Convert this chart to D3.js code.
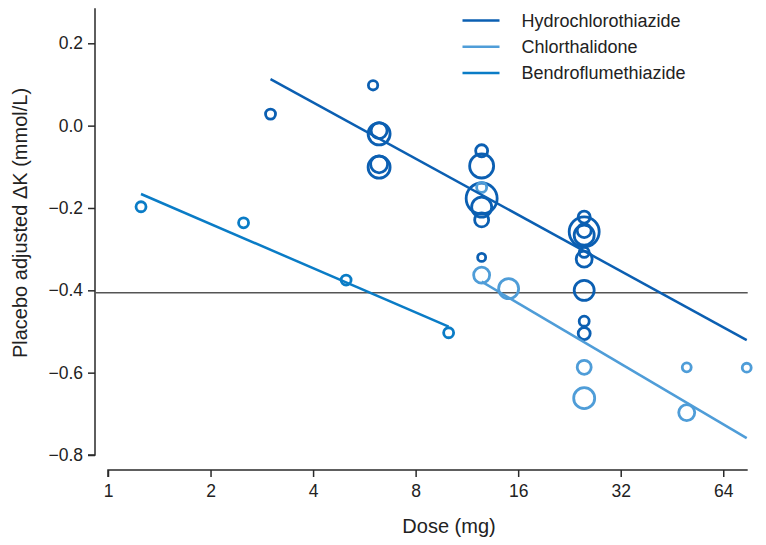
<!DOCTYPE html>
<html>
<head>
<meta charset="utf-8">
<script src="https://cdn.jsdelivr.net/npm/d3@7"></script>
<style>
  html, body { margin: 0; padding: 0; background: #fff; }
  svg { display: block; font-family: "Liberation Sans", Arial, Helvetica, sans-serif; }
</style>
</head>
<body>
<svg id="chart" width="766" height="545"></svg>
<script>
// ---------------- data ----------------
const drugs = ["Hydrochlorothiazide", "Chlorthalidone", "Bendroflumethiazide"];
const drugColors = ["#0b5fb2", "#4f9dd8", "#0a7cc6"];

// [dose (mg), placebo-adjusted ΔK (mmol/L), relative weight]
const hctzPoints = [
  [3, 0.028, 25], [6, 0.098, 22],
  [6.25, -0.020, 121], [6.25, -0.012, 64], [6.25, -0.101, 121], [6.25, -0.094, 72],
  [12.5, -0.061, 36], [12.5, -0.098, 144], [12.5, -0.177, 240], [12.5, -0.198, 100],
  [12.5, -0.229, 49], [12.5, -0.320, 16],
  [25, -0.222, 36], [25, -0.258, 225], [25, -0.266, 100], [25, -0.255, 49],
  [25, -0.308, 25], [25, -0.324, 64], [25, -0.400, 100], [25, -0.475, 25], [25, -0.505, 36]
];
const chlorPoints = [
  [12.5, -0.150, 25], [12.5, -0.363, 64], [15, -0.396, 100],
  [25, -0.587, 49], [25, -0.662, 110],
  [50, -0.587, 20], [50, -0.697, 64], [75, -0.588, 20]
];
const bendroPoints = [
  [1.25, -0.197, 25], [2.5, -0.236, 25], [5, -0.375, 25], [10, -0.503, 25]
];

// fitted regression lines: [dose, ΔK]
const hctzFit = [[3, 0.113], [75, -0.521]];
const chlorFit = [[12.5, -0.379], [75, -0.759]];
const bendroFit = [[1.25, -0.166], [10, -0.488]];

const referenceK = -0.406;

const xTicks = [1, 2, 4, 8, 16, 32, 64];
const yTicks = [0.2, 0.0, -0.2, -0.4, -0.6, -0.8];

// ---------------- chart ----------------
const svg = d3.select("#chart");

const x = d3.scaleLog().base(2).domain([1, 75.5]).range([108, 747.7]);
const y = d3.scaleLinear().domain([-0.8, 0.2]).range([455, 43.3]);
const r = d3.scaleSqrt().domain([0, 100]).range([0, 10]);

const axisColor = "#2a2a2a";

// y axis
const yAxis = svg.append("g").attr("transform", "translate(95,0)")
  .call(d3.axisLeft(y).tickValues(yTicks).tickSize(7).tickPadding(5)
        .tickFormat(d => d3.format(".1f")(d).replace("-", "\u2212")));
yAxis.select(".domain").attr("d", `M0,${y(0.285)}V${y(-0.8)}H-7`);
yAxis.selectAll("line, path").attr("stroke", axisColor).attr("stroke-width", 1.5);
yAxis.selectAll("text").attr("font-size", 17.5).attr("fill", "#222")
  .attr("font-family", "Liberation Sans, Arial, sans-serif");

// x axis
const xAxis = svg.append("g").attr("transform", "translate(0,470)")
  .call(d3.axisBottom(x).tickValues(xTicks).tickSize(7).tickPadding(8)
        .tickFormat(d3.format("d")));
xAxis.select(".domain").attr("d", `M${x(1)},7V0H${x(75.5)}`);
xAxis.selectAll("line, path").attr("stroke", axisColor).attr("stroke-width", 1.5);
xAxis.selectAll("text").attr("font-size", 17.5).attr("fill", "#222")
  .attr("font-family", "Liberation Sans, Arial, sans-serif");

// reference horizontal line
svg.append("line")
  .attr("x1", 95).attr("x2", x(75.5))
  .attr("y1", y(referenceK)).attr("y2", y(referenceK))
  .attr("stroke", "#555").attr("stroke-width", 1.6);

// axis titles
svg.append("text")
  .attr("x", 449).attr("y", 533)
  .attr("text-anchor", "middle")
  .attr("font-size", 20).attr("fill", "#222")
  .text("Dose (mg)");

svg.append("text")
  .attr("transform", "translate(27,223) rotate(-90)")
  .attr("text-anchor", "middle")
  .attr("font-size", 20).attr("fill", "#222")
  .text("Placebo adjusted ΔK (mmol/L)");

// series
const series = [
  { pts: hctzPoints, fit: hctzFit, color: drugColors[0] },
  { pts: chlorPoints, fit: chlorFit, color: drugColors[1] },
  { pts: bendroPoints, fit: bendroFit, color: drugColors[2] }
];

const line = d3.line().x(d => x(d[0])).y(d => y(d[1]));

series.forEach(s => {
  svg.append("g").selectAll("circle").data(s.pts).join("circle")
    .attr("cx", d => x(d[0])).attr("cy", d => y(d[1])).attr("r", d => r(d[2]))
    .attr("fill", "none").attr("stroke", s.color).attr("stroke-width", 2.8);
});
series.forEach(s => {
  svg.append("path").datum(s.fit).attr("d", line)
    .attr("fill", "none").attr("stroke", s.color).attr("stroke-width", 2.5);
});

// legend
const legend = svg.append("g");
drugs.forEach((name, i) => {
  const ly = 20.5 + i * 26.3;
  legend.append("line").attr("x1", 462.5).attr("x2", 499.5)
    .attr("y1", ly).attr("y2", ly)
    .attr("stroke", drugColors[i]).attr("stroke-width", 2.5);
  legend.append("text").attr("x", 521.5).attr("y", ly + 6.3)
    .attr("font-size", 18).attr("fill", "#222").text(name);
});
</script>
</body>
</html>
